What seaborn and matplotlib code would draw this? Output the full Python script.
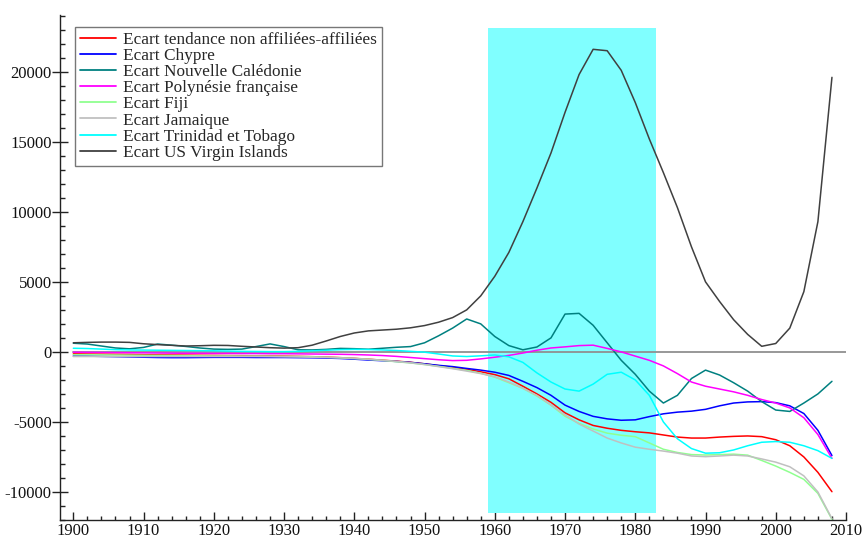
import matplotlib
matplotlib.use("Agg")
import matplotlib.pyplot as plt
from matplotlib.patches import Rectangle
from matplotlib.ticker import MultipleLocator
import seaborn as sns
import numpy as np
import pandas as pd

years = list(range(1900, 2009, 2))

tendance = [-140, -150, -160, -170, -180, -200, -210, -220, -230, -240, -250, -260, -270, -280, -290, -300,
            -320, -340, -370, -410, -460, -520, -590, -660, -740, -850, -980, -1100, -1240, -1420, -1620,
            -1920, -2450, -3000, -3600, -4350, -4850, -5250, -5450, -5600, -5700, -5780, -5930, -6080,
            -6150, -6150, -6080, -6030, -6000, -6050, -6270, -6700, -7500, -8600, -9980]
chypre = [-290, -300, -320, -340, -360, -380, -400, -410, -410, -400, -390, -390, -390, -400, -400, -400,
          -410, -420, -440, -470, -520, -580, -630, -680, -750, -850, -960, -1050, -1180, -1300, -1450,
          -1680, -2100, -2550, -3100, -3800, -4250, -4600, -4780, -4880, -4850, -4620, -4420, -4300,
          -4230, -4100, -3850, -3650, -3570, -3550, -3620, -3850, -4400, -5600, -7400]
caledonie = [620, 560, 420, 280, 220, 320, 560, 480, 390, 280, 200, 180, 200, 380, 570, 380,
             150, 140, 180, 250, 230, 190, 260, 330, 380, 650, 1150, 1700, 2350, 2000, 1100,
             450, 150, 350, 1000, 2700, 2750, 1900, 650, -600, -1600, -2800, -3650, -3100,
             -1900, -1300, -1650, -2200, -2800, -3550, -4150, -4250, -3650, -3000, -2100]
polynesie = [-20, -30, -40, -50, -60, -70, -80, -90, -100, -100, -110, -110, -120, -120, -130, -130,
             -140, -150, -160, -170, -190, -220, -260, -320, -400, -480, -560, -620, -600, -500, -380,
             -250, -80, 120, 280, 360, 450, 480, 250, 0, -300, -600, -1000, -1550,
             -2150, -2450, -2650, -2850, -3100, -3400, -3650, -4000, -4700, -5900, -7600]
fiji = [-200, -200, -210, -220, -230, -240, -250, -260, -270, -280, -290, -290, -300, -300, -310, -320,
        -330, -350, -380, -420, -470, -530, -610, -700, -790, -900, -1030, -1170, -1320, -1520, -1800,
        -2200, -2600, -3150, -3800, -4600, -5100, -5500, -5800, -5950, -6050, -6500, -6950, -7180,
        -7330, -7360, -7330, -7300, -7370, -7750, -8150, -8600, -9100, -10100, -11950]
jamaique = [-330, -330, -330, -330, -330, -330, -330, -330, -330, -330, -330, -330, -330, -330, -340, -350,
            -360, -380, -400, -430, -470, -530, -600, -680, -780, -900, -1050, -1200, -1370, -1550, -1780,
            -2150, -2600, -3100, -3800, -4500, -5150, -5650, -6150, -6500, -6800, -6950, -7080, -7230,
            -7430, -7480, -7430, -7370, -7430, -7640, -7870, -8200, -8850, -10000, -11900]
trinidad = [260, 240, 200, 160, 140, 130, 120, 110, 100, 90, 80, 60, 40, 30, 20, 20,
            40, 80, 120, 160, 180, 170, 140, 100, 40, -20, -150, -290, -330, -280, -220,
            -350, -750, -1500, -2150, -2650, -2800, -2300, -1600, -1450, -2000, -3100, -5000, -6200,
            -6900, -7230, -7200, -7000, -6700, -6450, -6400, -6450, -6700, -7050, -7600]
virgin = [650, 680, 700, 700, 680, 580, 520, 470, 420, 440, 470, 460, 400, 350, 300, 270,
          300, 480, 780, 1100, 1350, 1500, 1560, 1620, 1720, 1880, 2120, 2450, 3000, 4000, 5400,
          7100, 9300, 11700, 14200, 17100, 19800, 21600, 21500, 20100, 17800, 15200, 12800, 10300,
          7500, 5000, 3600, 2300, 1250, 400, 600, 1700, 4300, 9300, 19600]

labels = ["Ecart tendance non affiliées-affiliées", "Ecart Chypre", "Ecart Nouvelle Calédonie",
          "Ecart Polynésie française", "Ecart Fiji", "Ecart Jamaique",
          "Ecart Trinidad et Tobago", "Ecart US Virgin Islands"]
series = [tendance, chypre, caledonie, polynesie, fiji, jamaique, trinidad, virgin]
colors = ["#FF0000", "#0000FF", "#008080", "#FF00FF", "#90FF90", "#C0C0C0", "#00FFFF", "#404040"]

zero_x = [1900, 2010]
zero_y = [0, 0]
band_years = [1959, 1983]
band_vals = [-11480, 23150]

sns.set_theme(style="white")
plt.rcParams['font.family'] = ['Liberation Serif', 'DejaVu Serif']
plt.rcParams['axes.unicode_minus'] = False

fig = plt.figure(figsize=(8.65, 5.39), dpi=100)
ax = fig.add_axes([60 / 865, 19 / 539, 786 / 865, 505 / 539])

ax.add_patch(Rectangle((band_years[0], band_vals[0]), band_years[1] - band_years[0],
                       band_vals[1] - band_vals[0], facecolor="#80FFFF", edgecolor="none", zorder=1))

frames = []
for lab, vals in zip(labels, series):
    frames.append(pd.DataFrame({"year": years, "value": vals, "serie": lab}))
df = pd.concat(frames, ignore_index=True)

sns.lineplot(data=df, x="year", y="value", hue="serie", hue_order=labels,
             palette=dict(zip(labels, colors)), linewidth=1.1, ax=ax, zorder=3, legend=False)
sns.lineplot(x=zero_x, y=zero_y, color="#909090", linewidth=1.3, ax=ax, zorder=2)

ax.set_xlim(1898.1, 2010)
ax.set_ylim(-12000, 24050)
ax.set_xlabel("")
ax.set_ylabel("")

for s in ["top", "right"]:
    ax.spines[s].set_visible(False)
for s in ["left", "bottom"]:
    ax.spines[s].set_color("#222222")
    ax.spines[s].set_linewidth(1.0)

ax.xaxis.set_major_locator(MultipleLocator(10))
ax.xaxis.set_minor_locator(MultipleLocator(2))
ax.yaxis.set_major_locator(MultipleLocator(5000))
ax.yaxis.set_minor_locator(MultipleLocator(1000))
ax.set_xticks(range(1900, 2011, 10))
ax.set_yticks(range(-10000, 20001, 5000))
ax.tick_params(axis="x", which="major", direction="in", length=6, width=1, color="#222222",
               labelsize=12, pad=2, bottom=True)
ax.tick_params(axis="x", which="minor", direction="in", length=3, width=1, color="#222222", bottom=True)
ax.tick_params(axis="y", which="major", direction="inout", length=11, width=1, color="#222222",
               labelsize=12, pad=0.5, left=True)
ax.tick_params(axis="y", which="minor", direction="in", length=3.5, width=1, color="#222222", left=True)
for lbl in ax.get_xticklabels() + ax.get_yticklabels():
    lbl.set_color("#111111")

handles = [plt.Line2D([], [], color=c, linewidth=1.3) for c in colors]
leg = ax.legend(handles, labels, loc="upper left", bbox_to_anchor=(75 / 865, 1 - 27 / 539),
                bbox_transform=fig.transFigure, borderaxespad=0, fontsize=12.4,
                labelspacing=0.0, handlelength=2.1, handletextpad=0.4, borderpad=0.3,
                fancybox=False, framealpha=1, edgecolor="#777777")
leg.get_frame().set_linewidth(1.0)
leg.set_zorder(5)

fig.savefig("out.png", dpi=100)
